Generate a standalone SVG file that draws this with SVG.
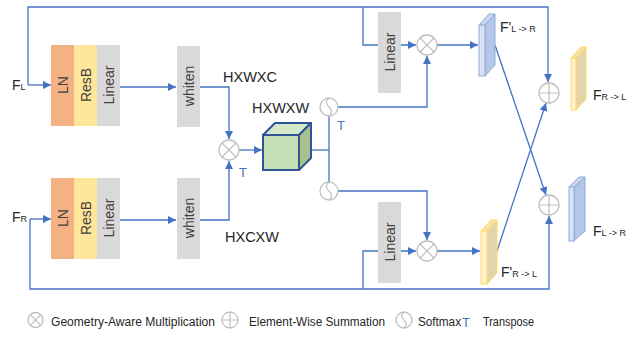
<svg xmlns="http://www.w3.org/2000/svg" width="631" height="337" viewBox="0 0 631 337">
<defs>
<marker id="arr" viewBox="0 0 10 10" refX="10" refY="5" markerWidth="8" markerHeight="8" markerUnits="userSpaceOnUse" orient="auto">
<path d="M0,0 L10,5 L0,10 z" fill="#4472c4"/>
</marker>
<style>
.c{fill:none;stroke:#4472c4;stroke-width:1.3}
.a{marker-end:url(#arr)}
.op{fill:#fff;stroke:#bfbfbf;stroke-width:1.3}
.opl{fill:none;stroke:#bfbfbf;stroke-width:1.2}
.lbl{font-family:"Liberation Sans",Arial,sans-serif;font-size:14px;fill:#404040;text-anchor:middle;dominant-baseline:central}
.t{font-family:"Liberation Sans",Arial,sans-serif;font-size:14.5px;fill:#262626}
.f{font-family:"Liberation Sans",Arial,sans-serif;font-size:14px;fill:#262626}
.s{font-size:9px}
.bt{font-family:"Liberation Sans",Arial,sans-serif;font-size:13px;fill:#4472c4}
.lg{font-family:"Liberation Sans",Arial,sans-serif;font-size:12px;fill:#262626}
.bf{fill:#dae3f3;stroke:#8faadc;stroke-width:1}
.bs{fill:#b4c7e7;stroke:#8faadc;stroke-width:1}
.btp{fill:#c9d7ee;stroke:#8faadc;stroke-width:1}
.yf{fill:#fff2cc;stroke:#ffd966;stroke-width:1}
.ys{fill:#e2d5ad;stroke:#ffd966;stroke-width:1}
.ytp{fill:#f6e3a8;stroke:#ffd966;stroke-width:1}
</style>
</defs>

<g id="connectors">
<path class="c a" d="M28,85 L51,85"/>
<path class="c a" d="M28,85 L28,7 L548,7 L548,82"/>
<path class="c a" d="M363,7 L363,45 L416,45"/>
<path class="c a" d="M30,219 L51,219"/>
<path class="c a" d="M30,219 L30,289 L549,289 L549,216"/>
<path class="c a" d="M363,289 L363,251 L416,251"/>
<path class="c a" d="M120,87 L176,87"/>
<path class="c a" d="M120,220 L176,220"/>
<path class="c a" d="M200,87 L229,87 L229,139"/>
<path class="c a" d="M200,220 L229,220 L229,161"/>
<path class="c a" d="M239,150 L262,150"/>
<path class="c" d="M311,150 L329,150"/>
<path class="c" d="M329,116 L329,182"/>
<path class="c a" d="M338,107 L427,107 L427,56"/>
<path class="c a" d="M338,191 L427,191 L427,240"/>
<path class="c a" d="M437,45 L478,45"/>
<path class="c a" d="M437,251 L480,251"/>
<path class="c a" d="M495,45 L546,195"/>
<path class="c a" d="M497,251 L546,103"/>
</g>

<g id="input_FL"><text class="f" x="12" y="90">F<tspan class="s">L</tspan></text></g>
<g id="input_FR"><text class="f" x="12" y="222">F<tspan class="s">R</tspan></text></g>

<g id="LN_top"><rect x="51" y="45" width="23" height="81" fill="#f4b183"/><text class="lbl" transform="translate(62.5,85) rotate(-90)">LN</text></g>
<g id="ResB_top"><rect x="74" y="45" width="23" height="81" fill="#ffe699"/><text class="lbl" transform="translate(85.5,85) rotate(-90)">ResB</text></g>
<g id="Linear_top"><rect x="97" y="45" width="23" height="81" fill="#d9d9d9"/><text class="lbl" transform="translate(108.5,85) rotate(-90)">Linear</text></g>
<g id="whiten_top"><rect x="177" y="46" width="23" height="81" fill="#d9d9d9"/><text class="lbl" transform="translate(188.5,86) rotate(-90)">whiten</text></g>

<g id="LN_bot"><rect x="51" y="178" width="23" height="81" fill="#f4b183"/><text class="lbl" transform="translate(62.5,218) rotate(-90)">LN</text></g>
<g id="ResB_bot"><rect x="74" y="178" width="23" height="81" fill="#ffe699"/><text class="lbl" transform="translate(85.5,218) rotate(-90)">ResB</text></g>
<g id="Linear_bot"><rect x="97" y="178" width="23" height="81" fill="#d9d9d9"/><text class="lbl" transform="translate(108.5,218) rotate(-90)">Linear</text></g>
<g id="whiten_bot"><rect x="177" y="178" width="23" height="81" fill="#d9d9d9"/><text class="lbl" transform="translate(188.5,218) rotate(-90)">whiten</text></g>

<g id="label_HXWXC"><text class="t" x="223" y="82">HXWXC</text></g>
<g id="label_HXCXW"><text class="t" x="225" y="242">HXCXW</text></g>
<g id="label_HXWXW"><text class="t" x="252" y="113">HXWXW</text></g>

<g id="mult_center"><circle class="op" cx="229" cy="150" r="10"/><path class="opl" d="M222,143 L236,157 M236,143 L222,157"/><text class="bt" x="239" y="177">T</text></g>

<g id="cube">
<rect x="263" y="135" width="36" height="35" fill="#c5e0b4" stroke="#2f5597" stroke-width="2"/>
<polygon points="263,135 275,123 311,123 299,135" fill="#d5e8c7" stroke="#2f5597" stroke-width="2" stroke-linejoin="round"/>
<polygon points="299,135 311,123 311,158 299,170" fill="#a9c18e" stroke="#2f5597" stroke-width="2" stroke-linejoin="round"/>
</g>

<g id="softmax_top"><circle class="op" cx="329" cy="107" r="9"/><path class="opl" d="M329,98 Q324,102.5 329,107 Q334,111.5 329,116"/><text class="bt" x="337" y="130">T</text></g>
<g id="softmax_bot"><circle class="op" cx="329" cy="191" r="9"/><path class="opl" d="M329,182 Q324,186.5 329,191 Q334,195.5 329,200"/></g>

<g id="Linear_right_top"><rect x="378" y="12" width="23" height="81" fill="#d9d9d9"/><text class="lbl" transform="translate(389.5,52) rotate(-90)">Linear</text></g>
<g id="Linear_right_bot"><rect x="378" y="202" width="23" height="81" fill="#d9d9d9"/><text class="lbl" transform="translate(389.5,242) rotate(-90)">Linear</text></g>

<g id="mult_top"><circle class="op" cx="427" cy="45" r="10"/><path class="opl" d="M420,38 L434,52 M434,38 L420,52"/></g>
<g id="mult_bot"><circle class="op" cx="427" cy="251" r="10"/><path class="opl" d="M420,244 L434,258 M434,244 L420,258"/></g>

<g id="F_prime_L_R">
<polygon class="bs" points="485,25 495,14 495,65 485,76"/>
<polygon class="btp" points="479,25 489,14 495,14 485,25"/>
<rect class="bf" x="479" y="25" width="6" height="51"/>
<text class="f" x="500" y="32">F'<tspan class="s">L -&gt; R</tspan></text>
</g>
<g id="F_prime_R_L">
<polygon class="ys" points="487,231 497,220 497,273 487,284"/>
<polygon class="ytp" points="481,231 491,220 497,220 487,231"/>
<rect class="yf" x="481" y="231" width="6" height="53"/>
<text class="f" x="501" y="277">F'<tspan class="s">R -&gt; L</tspan></text>
</g>

<g id="sum_top"><circle class="op" cx="549" cy="93" r="10"/><path class="opl" d="M539,93 L559,93 M549,83 L549,103"/></g>
<g id="sum_bot"><circle class="op" cx="549" cy="205" r="10"/><path class="opl" d="M539,205 L559,205 M549,195 L549,215"/></g>

<g id="F_R_L">
<polygon class="ys" points="576,58 586,47 586,99 576,110"/>
<polygon class="ytp" points="571,58 581,47 586,47 576,58"/>
<rect class="yf" x="571" y="58" width="5" height="52"/>
<text class="f" x="593" y="100">F<tspan class="s">R -&gt; L</tspan></text>
</g>
<g id="F_L_R">
<polygon class="bs" points="574,187 585,177 585,231 574,241"/>
<polygon class="btp" points="569,187 579,177 585,177 574,187"/>
<rect class="bf" x="569" y="187" width="5" height="54"/>
<text class="f" x="593" y="236">F<tspan class="s">L -&gt; R</tspan></text>
</g>

<g id="legend">
<circle class="op" cx="35.5" cy="320" r="7.5"/><path class="opl" d="M30.2,314.7 L40.8,325.3 M40.8,314.7 L30.2,325.3"/>
<text class="lg" x="51" y="326" textLength="164" lengthAdjust="spacingAndGlyphs">Geometry-Aware Multiplication</text>
<circle class="op" cx="230" cy="320" r="8"/><path class="opl" d="M222,320 L238,320 M230,312 L230,328"/>
<text class="lg" x="249" y="326" textLength="136" lengthAdjust="spacingAndGlyphs">Element-Wise Summation</text>
<circle class="op" cx="404" cy="320" r="8"/><path class="opl" d="M404,312 Q399.5,316 404,320 Q408.5,324 404,328"/>
<text class="lg" x="418" y="326" textLength="43" lengthAdjust="spacingAndGlyphs">Softmax</text>
<text class="bt" x="462" y="327">T</text>
<text class="lg" x="483" y="326" textLength="51" lengthAdjust="spacingAndGlyphs">Transpose</text>
</g>
</svg>
